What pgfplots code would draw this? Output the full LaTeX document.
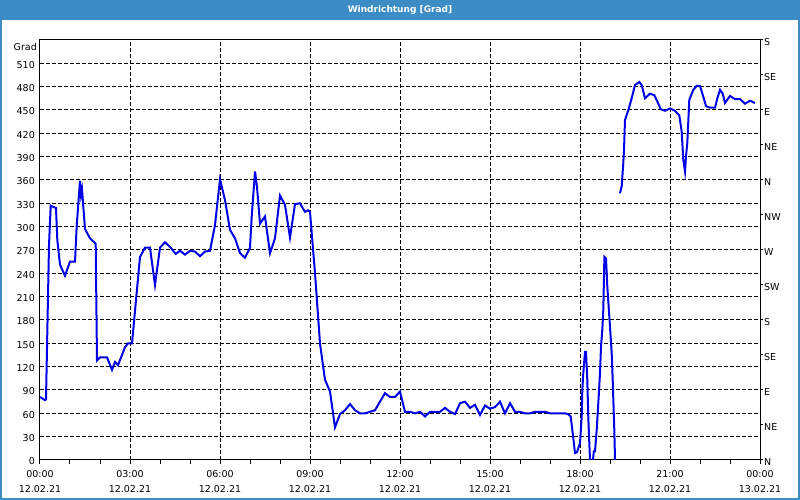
\documentclass[border=0pt]{standalone}
\usepackage{fontspec}
\setmainfont{DejaVu Sans}
\usepackage{pgfplots}
\pgfplotsset{compat=1.18}
\definecolor{winblue}{RGB}{60,141,197}
\definecolor{lineblue}{RGB}{0,0,230}
\begin{document}
\begin{tikzpicture}
\fill[white] (0pt,0pt) rectangle (800pt,500pt);
\fill[winblue] (0pt,480pt) rectangle (800pt,500pt);
\draw[winblue, line width=2pt] (1pt,480pt) -- (1pt,1pt) -- (799pt,1pt) -- (799pt,480pt);
\node[white, font=\bfseries\fontsize{9}{11}\selectfont] at (400pt,490pt) {Windrichtung [Grad]};
\node[anchor=east, font=\fontsize{9.5}{11}\selectfont, inner sep=0pt] at (37pt,453pt) {Grad};
\begin{axis}[
  at={(40pt,40pt)}, anchor=south west,
  width=720pt, height=420pt, scale only axis,
  xmin=0, xmax=24, ymin=0, ymax=540,
  axis line style={black, line width=1pt},
  xtick={0,3,...,24},
  minor xtick={1,2,4,5,7,8,10,11,13,14,16,17,19,20,22,23},
  xticklabels={{00:00\\12.02.21},{03:00\\12.02.21},{06:00\\12.02.21},{09:00\\12.02.21},{12:00\\12.02.21},{15:00\\12.02.21},{18:00\\12.02.21},{21:00\\12.02.21},{00:00\\13.02.21}},
  xticklabel style={align=center, font=\fontsize{9.5}{15.5}\selectfont, inner sep=0pt, yshift=-6pt},
  xtick pos=bottom, tick align=outside,
  major tick length=4pt, minor tick length=4pt,
  xtick style={black, line width=1pt},
  minor x tick style={black, line width=1pt},
  ytick={0,30,...,510},
  ytick style={draw=none},
  yticklabel style={font=\fontsize{9.5}{11}\selectfont, inner sep=0pt, xshift=-1pt, yshift=-1.5pt},
  /pgf/number format/assume math mode=true,
  xmajorgrids, ymajorgrids,
  major grid style={black, line width=1pt, dash pattern=on 4pt off 2pt},
  unbounded coords=jump,
]
\addplot[lineblue, line width=2pt] coordinates {
(0.000,81) (0.167,77) (0.2,78) (0.3,276) (0.357,327) (0.467,325) (0.533,324)
(0.577,283) (0.667,251) (0.833,237) (1.0,255) (1.167,255) (1.222,300)
(1.333,359) (1.367,341) (1.4,348) (1.5,297) (1.667,285) (1.857,278)
(1.9,128) (2.0,132) (2.233,132) (2.4,116) (2.5,126) (2.6,122) (2.733,135)
(2.833,145) (2.933,150) (3.067,150) (3.333,261) (3.5,273) (3.667,273)
(3.833,225) (4.0,273) (4.167,280) (4.333,274) (4.523,265) (4.667,269)
(4.833,264) (5.0,269) (5.167,268) (5.333,262) (5.5,268) (5.667,269)
(5.833,302) (6.0,361) (6.167,334) (6.333,296) (6.5,285) (6.667,266)
(6.833,260) (7.0,273) (7.057,313) (7.167,371) (7.233,351) (7.333,304)
(7.5,313) (7.667,266) (7.833,285) (8.0,340) (8.167,328) (8.333,286)
(8.5,329) (8.667,330) (8.833,319) (8.933,321) (9.0,319) (9.057,292)
(9.167,240) (9.333,150) (9.5,103) (9.667,88) (9.833,42) (10.0,59)
(10.167,64) (10.333,72) (10.5,64) (10.667,60) (10.833,60) (11.0,62)
(11.167,64) (11.333,75) (11.5,86) (11.667,81) (11.833,81) (12.0,88)
(12.167,62) (12.333,62) (12.5,60) (12.667,62) (12.833,56) (13.0,62)
(13.167,62) (13.333,62) (13.5,67) (13.667,62) (13.833,59) (14.0,73)
(14.167,75) (14.333,67) (14.5,71) (14.667,58) (14.833,70) (15.0,66)
(15.167,68) (15.333,75) (15.5,60) (15.667,73) (15.833,62) (16.0,62)
(16.167,60) (16.333,60) (16.5,62) (16.667,62) (16.833,62) (17.0,60)
(17.167,60) (17.333,60) (17.5,60) (17.6,59) (17.69,56) (17.777,28)
(17.833,9) (17.9,10) (18.0,22) (18.057,56) (18.077,90) (18.11,112)
(18.167,139) (18.2,139) (18.243,103) (18.277,54) (18.333,0) (18.383,-20)
(18.46,11) (18.5,11) (18.557,39) (18.61,73) (18.667,112) (18.7,146)
(18.743,167) (18.777,193) (18.813,261) (18.867,259) (18.91,223) (19.0,171)
(19.057,137) (19.09,103) (19.143,39) (19.167,0) (19.2,-20) (19.25,nan)
(19.333,343) (19.39,352) (19.443,382) (19.467,399) (19.5,437) (19.61,450)
(19.723,465) (19.833,482) (19.977,486) (20.057,482) (20.167,465) (20.333,471)
(20.477,469) (20.577,461) (20.69,451) (20.833,449) (21.0,452) (21.167,449)
(21.31,443) (21.39,422) (21.443,386) (21.5,371) (21.533,390) (21.577,408)
(21.643,463) (21.777,476) (21.89,481) (22.0,481) (22.11,467) (22.2,455)
(22.333,453) (22.5,453) (22.577,465) (22.667,476) (22.757,471) (22.833,459)
(23.0,468) (23.167,464) (23.333,464) (23.5,458) (23.667,462) (23.833,459)
};
\end{axis}
\begin{axis}[
  at={(40pt,40pt)}, anchor=south west,
  width=720pt, height=420pt, scale only axis,
  xmin=0, xmax=24, ymin=0, ymax=540,
  axis x line=none, axis y line*=right,
  axis line style={black, line width=1pt},
  ytick={0,45,...,540},
  yticklabels={N,NE,E,SE,S,SW,W,NW,N,NE,E,SE,S},
  tick align=outside, major tick length=3pt,
  ytick style={black, line width=1pt},
  yticklabel style={font=\fontsize{9.5}{11}\selectfont, anchor=west, inner sep=0pt, xshift=1pt, yshift=-2pt},
]
\addplot[draw=none] coordinates {(0,0)};
\end{axis}
\end{tikzpicture}
\end{document}
